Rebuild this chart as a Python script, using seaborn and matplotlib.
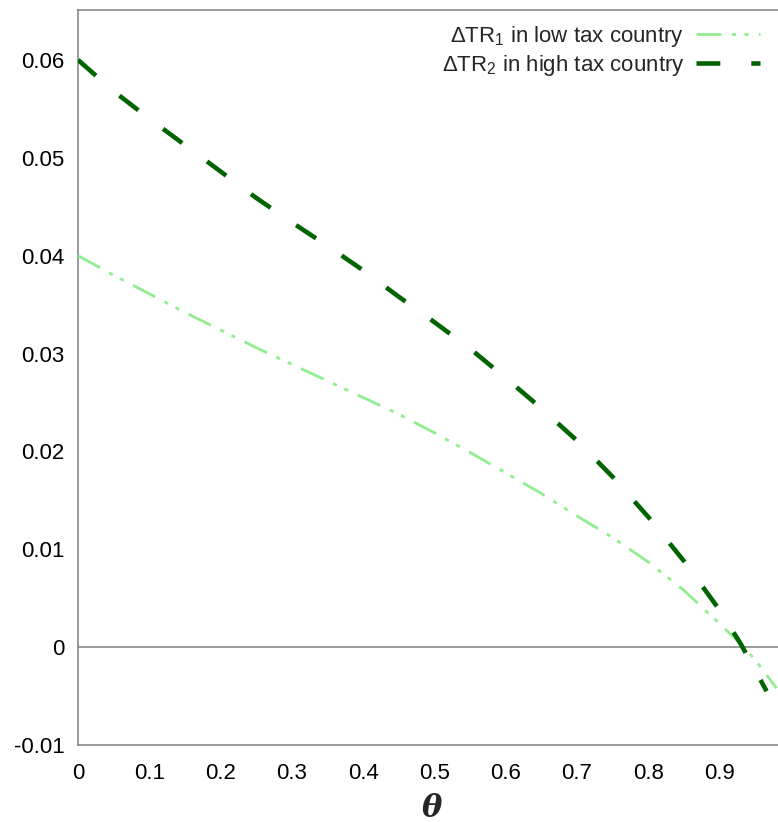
import numpy as np
import pandas as pd
import matplotlib
matplotlib.use("Agg")
import matplotlib.pyplot as plt
import seaborn as sns

# ---- data ----
theta_high = [0.0, 0.05, 0.1, 0.15, 0.2, 0.25, 0.3, 0.35, 0.4, 0.45, 0.5, 0.55,
              0.6, 0.65, 0.7, 0.75, 0.8, 0.85, 0.9, 0.93, 0.966]
dtr_high = [0.0600, 0.0568, 0.0540, 0.0513, 0.0486, 0.0459, 0.0434, 0.0410, 0.0385,
            0.0358, 0.0332, 0.0305, 0.0275, 0.0244, 0.0211, 0.0174, 0.0133, 0.0088,
            0.0038, 0.0003, -0.0045]

theta_low = [0.0, 0.05, 0.1, 0.15, 0.2, 0.25, 0.3, 0.35, 0.4, 0.45, 0.5, 0.55,
             0.6, 0.65, 0.7, 0.75, 0.8, 0.85, 0.9, 0.93, 0.95, 0.98]
dtr_low = [0.0400, 0.0380, 0.0361, 0.0342, 0.0324, 0.0306, 0.0289, 0.0272, 0.0255,
           0.0238, 0.0219, 0.0199, 0.0178, 0.0157, 0.0134, 0.0112, 0.0087, 0.0058,
           0.0024, 0.0003, -0.0013, -0.0042]

x_ticks = [0, 0.1, 0.2, 0.3, 0.4, 0.5, 0.6, 0.7, 0.8, 0.9]
x_tick_labels = ["0", "0.1", "0.2", "0.3", "0.4", "0.5", "0.6", "0.7", "0.8", "0.9"]
y_ticks = [-0.01, 0, 0.01, 0.02, 0.03, 0.04, 0.05, 0.06]
y_tick_labels = ["-0.01", "0", "0.01", "0.02", "0.03", "0.04", "0.05", "0.06"]

label_low = r"$\Delta$TR$_1$ in low tax country"
label_high = r"$\Delta$TR$_2$ in high tax country"

df_low = pd.DataFrame({"theta": theta_low, "dtr": dtr_low})
df_high = pd.DataFrame({"theta": theta_high, "dtr": dtr_high})

sns.set_style("white")
plt.rcParams["font.family"] = ["Liberation Sans", "DejaVu Sans"]
plt.rcParams["mathtext.fontset"] = "custom"
plt.rcParams["mathtext.rm"] = "Liberation Sans"
plt.rcParams["mathtext.it"] = "Liberation Sans:italic"

fig = plt.figure(figsize=(7.78, 8.22), dpi=100)
ax = fig.add_axes([78 / 778, 1 - 745 / 822, 1 - 78 / 778, (745 - 10) / 822])

grey = "#7f7f7f"
ax.axhline(0, color=grey, lw=1.1, zorder=1)

sns.lineplot(data=df_low, x="theta", y="dtr", ax=ax, color="#90ee90", lw=2.0,
             label=label_low, zorder=3)
sns.lineplot(data=df_high, x="theta", y="dtr", ax=ax, color="#006400", lw=3.3,
             label=label_high, zorder=4)
lines = ax.get_lines()
lines[-2].set_dashes((9.0, 3.75, 1.5, 3.0, 1.5, 3.75))
lines[-1].set_dashes((5.2, 6.75))

ax.set_xlim(0, 0.982)
ax.set_ylim(-0.01, 0.0651)
ax.set_xticks(x_ticks)
ax.set_xticklabels(x_tick_labels)
ax.set_yticks(y_ticks)
ax.set_yticklabels(y_tick_labels)
ax.tick_params(axis="both", direction="in", length=8, width=1, color=grey,
               labelsize=16, labelcolor="black")
ax.tick_params(axis="x", pad=13)
ax.tick_params(axis="y", pad=9.5)

for side in ["left", "bottom", "top"]:
    ax.spines[side].set_color(grey)
    ax.spines[side].set_linewidth(1.1)
    ax.spines[side].set_visible(True)
ax.spines["right"].set_visible(False)

ax.set_xlabel("")
ax.set_ylabel("")
fig.text(432 / 778, 1 - 808 / 822, "θ", family="DejaVu Serif", weight="bold",
         style="italic", fontsize=22, ha="center", va="center")

leg = ax.legend(loc="upper right", frameon=False, markerfirst=False, fontsize=16,
                handlelength=2.85, handletextpad=0.55, labelspacing=0.18,
                borderaxespad=0, borderpad=0, bbox_to_anchor=(0.974, 0.981))

fig.savefig("out.png", dpi=100)
